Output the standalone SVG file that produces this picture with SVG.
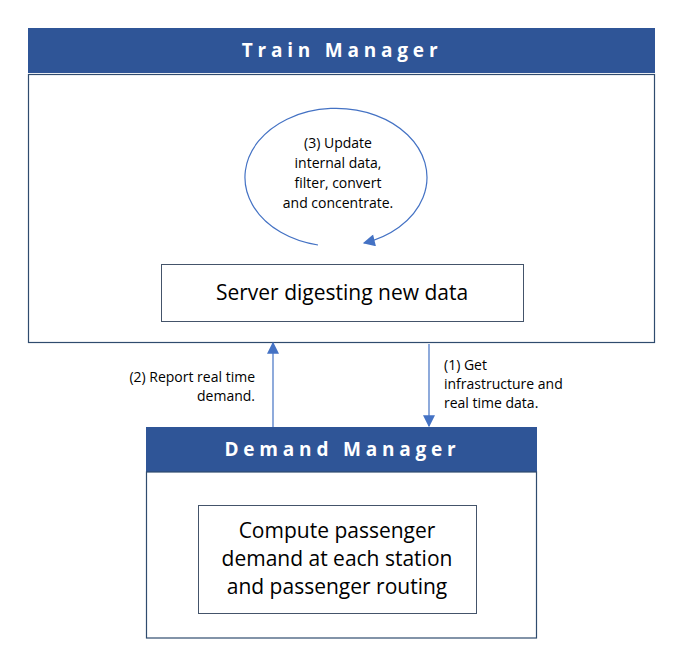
<svg xmlns="http://www.w3.org/2000/svg" width="690" height="667" viewBox="0 0 690 667">
<style>
.hdr{fill:#2F5597;}
.body{fill:#fff;stroke:#2F4B6E;stroke-width:1.2;}
.box{fill:#fff;stroke:#44546A;stroke-width:1;}
.ht{font-family:"Open Sans","Liberation Sans",sans-serif;font-weight:bold;font-size:19px;fill:#fff;letter-spacing:4.8px;text-anchor:middle;}
.bt{font-family:"Open Sans","Liberation Sans",sans-serif;font-size:21px;fill:#000;text-anchor:middle;}
.lt{font-family:"Open Sans","Liberation Sans",sans-serif;font-size:14px;fill:#000;}
.con{fill:none;stroke:#4472C4;stroke-width:1.2;}
</style>
<defs>
<marker id="ah2" viewBox="0 0 10 10" refX="9" refY="5" markerWidth="14" markerHeight="12" markerUnits="userSpaceOnUse" orient="auto">
<path d="M0,0 L10,5 L0,10 z" fill="#4472C4"/>
</marker>
</defs>
<rect width="690" height="667" fill="#fff"/>
<g id="train-manager">
<rect class="hdr" x="28" y="28" width="627" height="45"/>
<rect class="body" x="28.5" y="74.5" width="626" height="268"/>
<text class="ht" x="342" y="57">Train Manager</text>
</g>
<g id="server">
<rect class="box" x="161.5" y="264.5" width="362" height="57"/>
<text class="bt" x="342" y="300">Server digesting new data</text>
</g>
<g id="demand-manager">
<rect class="hdr" x="146" y="427" width="391" height="45"/>
<rect class="body" x="146.5" y="472" width="390" height="166"/>
<text class="ht" x="342.5" y="456">Demand Manager</text>
</g>
<g id="compute">
<rect class="box" x="198.5" y="505.5" width="278" height="108"/>
<text class="bt" x="337" y="538">Compute passenger</text>
<text class="bt" x="337" y="566">demand at each station</text>
<text class="bt" x="337" y="594">and passenger routing</text>
</g>
<g id="connectors">
<path class="con" d="M318,245 A91,69 0 1 1 364,243" marker-end="url(#ah2)"/>
<line class="con" x1="273" y1="427" x2="273" y2="343" marker-end="url(#ah2)"/>
<line class="con" x1="429" y1="344" x2="429" y2="426" marker-end="url(#ah2)"/>
</g>
<g id="labels">
<text class="lt" x="338" y="148" text-anchor="middle">(3) Update</text>
<text class="lt" x="338" y="168" text-anchor="middle">internal data,</text>
<text class="lt" x="338" y="188" text-anchor="middle">filter, convert</text>
<text class="lt" x="338" y="208" text-anchor="middle">and concentrate.</text>
<text class="lt" x="255" y="382" text-anchor="end">(2) Report real time</text>
<text class="lt" x="255" y="401" text-anchor="end">demand.</text>
<text class="lt" x="444" y="370">(1) Get</text>
<text class="lt" x="444" y="389">infrastructure and</text>
<text class="lt" x="444" y="408">real time data.</text>
</g>
</svg>
